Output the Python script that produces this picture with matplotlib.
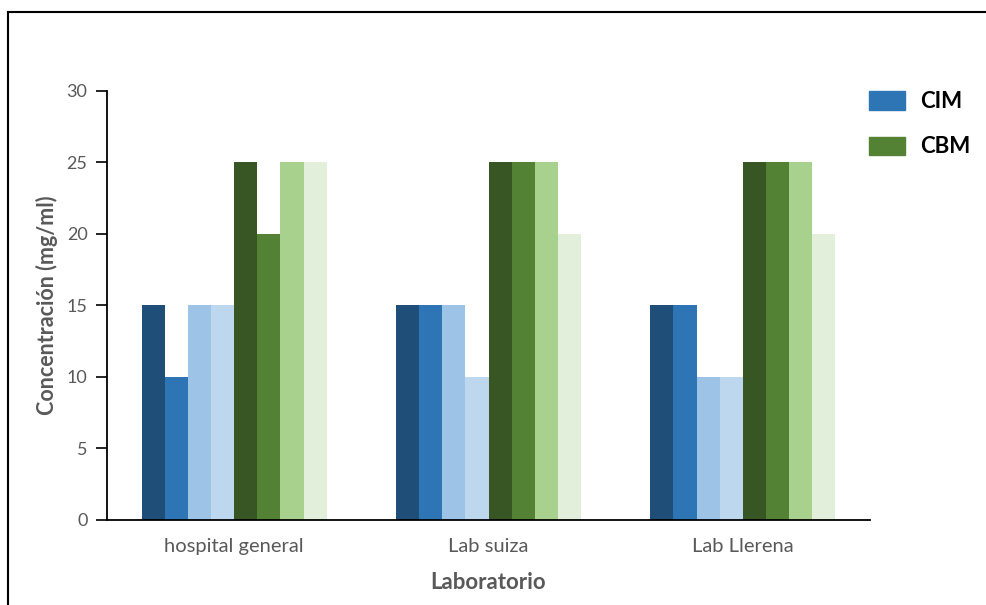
import numpy as np
import matplotlib
matplotlib.use('Agg')
import matplotlib.pyplot as plt
import matplotlib.patches as mpatches
from matplotlib.lines import Line2D

plt.rcParams['font.family'] = ['Lato', 'DejaVu Sans']

labs = ['hospital general', 'Lab suiza', 'Lab Llerena']
# 4 CIM series (blue shades) then 4 CBM series (green shades)
s1 = [15, 15, 15]
s2 = [10, 15, 15]
s3 = [15, 15, 10]
s4 = [15, 10, 10]
s5 = [25, 25, 25]
s6 = [20, 25, 25]
s7 = [25, 25, 25]
s8 = [25, 20, 20]
series = [s1, s2, s3, s4, s5, s6, s7, s8]
bar_colors = ['#1F4E79', '#2E75B6', '#9DC3E6', '#BDD7EE',
              '#375623', '#548235', '#A9D18E', '#E2EFDA']
yticks = [0, 5, 10, 15, 20, 25, 30]

fig = plt.figure(figsize=(9.86, 6.05), dpi=100)
ax = fig.add_axes([0.1085, 0.1405, 0.7739, 0.7091])

x = np.arange(len(labs))
w = 0.091
for i, vals in enumerate(series):
    ax.bar(x + (i - 3.5) * w, vals, width=w, color=bar_colors[i], linewidth=0)

ax.set_xlim(-0.5, 2.5)
ax.set_ylim(0, 30)
ax.set_yticks(yticks)
ax.set_xticks(x)
ax.set_xticklabels(labs)
ax.tick_params(axis='x', length=0, pad=13, labelsize=14.5, labelcolor='#595959')
ax.tick_params(axis='y', length=8, width=1.2, pad=6, labelsize=13, labelcolor='#595959')
for sp in ['top', 'right']:
    ax.spines[sp].set_visible(False)
for sp in ['left', 'bottom']:
    ax.spines[sp].set_linewidth(1.3)

ax.set_xlabel('Laboratorio', fontsize=16, fontweight='bold', color='#595959', labelpad=12)
ax.set_ylabel('Concentración (mg/ml)', fontsize=15.5, fontweight='bold', color='#595959', labelpad=6)

handles = [mpatches.Patch(color='#2E75B6', label='CIM'),
           mpatches.Patch(color='#548235', label='CBM')]
leg = fig.legend(handles=handles, loc='upper left', bbox_to_anchor=(869 / 986, 1 - 91 / 605),
                 frameon=False, fontsize=16, handlelength=1.6, handleheight=0.9,
                 labelspacing=1.1, handletextpad=0.7, borderpad=0, borderaxespad=0)
for t in leg.get_texts():
    t.set_fontweight('bold')

# outer frame (left and top edges visible)
fig.add_artist(Line2D([8 / 986, 8 / 986], [0, 1 - 12 / 605], transform=fig.transFigure, color='black', lw=1.5))
fig.add_artist(Line2D([8 / 986, 1], [1 - 12 / 605, 1 - 12 / 605], transform=fig.transFigure, color='black', lw=1.5))

fig.savefig('out.png', dpi=100)
